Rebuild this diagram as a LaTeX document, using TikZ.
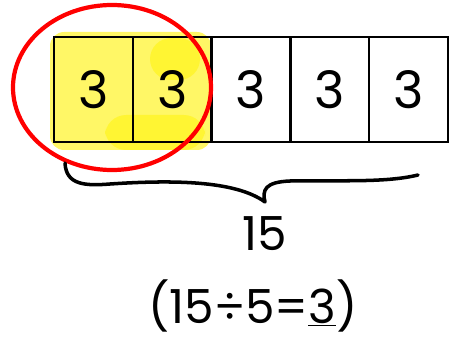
\documentclass[tikz,border=0pt]{standalone}
\usepackage{fontspec}
\setmainfont{Poppins}
\usetikzlibrary{positioning, calc}

\begin{document}
\begin{tikzpicture}[
    x=0.03cm, y=-0.03cm,
    cell/.style={draw, line width=2pt, minimum width=2.364cm, minimum height=3.15cm, inner sep=0pt, font=\fontsize{44}{50}\selectfont},
    hilite/.style={fill=yellow!60!white, rounded corners=12pt},
    ring/.style={draw=red, line width=3.6pt},
    brace/.style={draw, line width=3pt, line cap=round, line join=round},
    big/.style={font=\fontsize{40}{46}\selectfont}
]
    \useasboundingbox (0,0) rectangle (451,344);

    % highlight of the first two parts
    \fill[hilite] (50,32) rectangle (211,150);
    \fill[yellow!80!white, rounded corners=18pt] (150,38) rectangle (200,80);
    \fill[yellow!80!white, rounded corners=18pt] (105,115) rectangle (205,150);

    % the bar of five equal parts
    \foreach \i in {1,...,5}
        \node[cell] (c\i) at ({54+78.8*(\i-0.5)}, 89.5) {3};

    % circle round the two parts
    \draw[ring] (112,87.5) ellipse [x radius=99, y radius=82.5];

    % brace under the bar
    \coordinate (bl) at (65,163);
    \coordinate (tip) at (265,202);
    \coordinate (br) at (418,175);
    \draw[brace] (bl) .. controls (66,185) and (85,186) .. (110,184)
        .. controls (170,180) and (235,180) .. (tip)
        .. controls (262,190) and (265,182) .. (290,181)
        .. controls (340,180) and (385,183) .. (br);

    % total and the sum
    \node[big, below=0.3cm of tip] (total) {15};
    \node[big] (sum) at (253,306) {(15÷5=\underline{3})};
\end{tikzpicture}
\end{document}
